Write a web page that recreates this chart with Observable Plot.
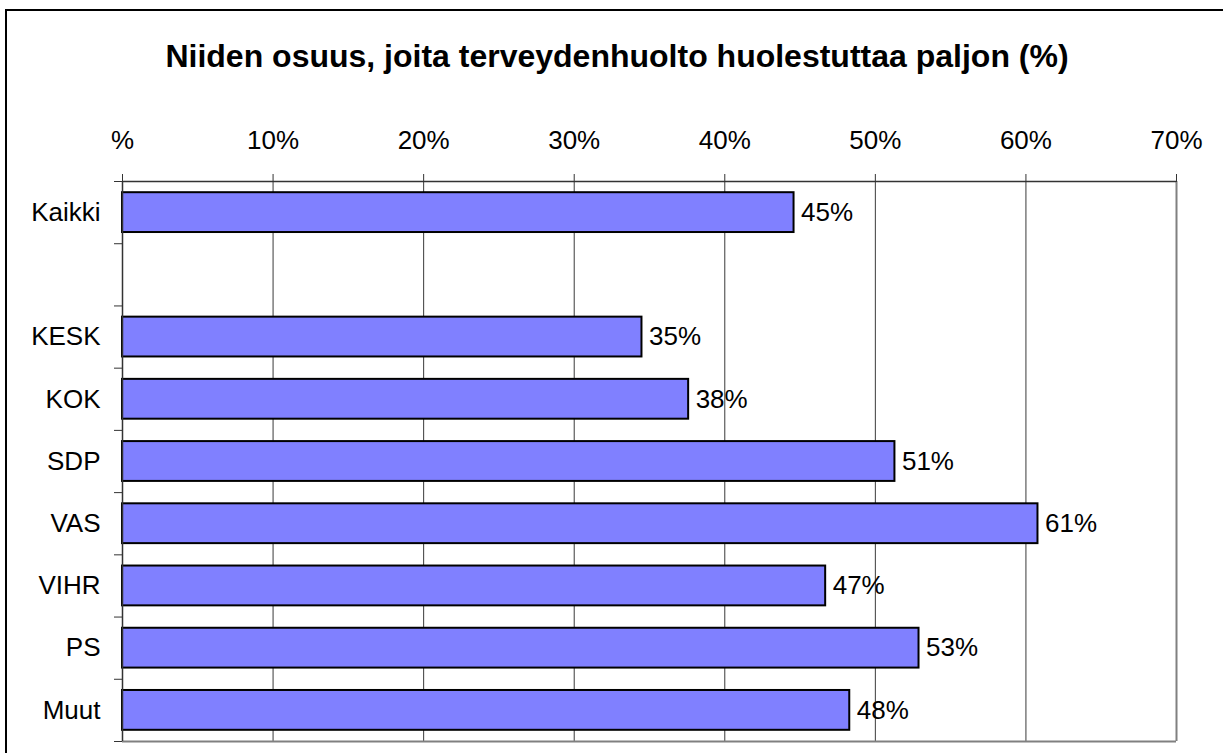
<!DOCTYPE html>
<html>
<head>
<meta charset="utf-8">
<script src="https://cdn.jsdelivr.net/npm/d3@7"></script>
<script src="https://cdn.jsdelivr.net/npm/@observablehq/plot@0.6"></script>
<style>
  html, body { margin: 0; padding: 0; background: #fff; }
  #page { position: relative; width: 1223px; height: 753px; overflow: hidden; font-family: Arial, "Liberation Sans", sans-serif; }
  #frame { position: absolute; left: 5px; top: 9px; width: 1400px; height: 900px; border: 2px solid #000; box-sizing: border-box; }
  #title { position: relative; height: 120px; box-sizing: border-box; padding-top: 40px; width: 1234px; text-align: center; font-weight: bold; font-size: 32px; line-height: 32px; color: #000; white-space: nowrap; }
  #chart { position: relative; }
</style>
</head>
<body>
<div id="page">
  <div id="frame"></div>
  <div id="title">Niiden osuus, joita terveydenhuolto huolestuttaa paljon (%)</div>
  <div id="chart"></div>
</div>
<script>
const categories = ["Kaikki", "", "KESK", "KOK", "SDP", "VAS", "VIHR", "PS", "Muut"];
const values = [0.446, null, 0.345, 0.376, 0.513, 0.608, 0.467, 0.529, 0.483];
const valueLabels = ["45%", "", "35%", "38%", "51%", "61%", "47%", "53%", "48%"];
const xTicks = [0, 0.1, 0.2, 0.3, 0.4, 0.5, 0.6, 0.7];
const xTickLabels = ["%", "10%", "20%", "30%", "40%", "50%", "60%", "70%"];

const rows = categories.map((c, i) => ({cat: c, i, value: values[i], label: valueLabels[i]}));
const bars = rows.filter(d => d.value != null);
const boundaries = d3.range(categories.length + 1);

const chart = Plot.plot({
  width: 1223,
  height: 633,
  marginTop: 61,
  marginBottom: 12,
  marginLeft: 122,
  marginRight: 47,
  style: {fontFamily: "Arial, 'Liberation Sans', sans-serif", fontSize: "26px", color: "#000", background: "transparent"},
  x: {domain: [0, 0.7]},
  y: {domain: [0, categories.length], reverse: true},
  marks: [
    Plot.ruleX(xTicks.slice(1, -1), {stroke: "#3a3a3a", strokeWidth: 1}),
    Plot.ruleX([0.7], {stroke: "#808080", strokeWidth: 2}),
    Plot.ruleY([categories.length], {stroke: "#808080", strokeWidth: 2}),
    Plot.rectX(bars, {x1: 0, x2: "value", y1: d => d.i + 0.18, y2: d => d.i + 0.82, fill: "#8080FF", stroke: "#000", strokeWidth: 2}),
    Plot.ruleY([0], {stroke: "#333", strokeWidth: 1.5}),
    Plot.ruleX([0], {stroke: "#333", strokeWidth: 1.5}),
    Plot.axisX({anchor: "top", ticks: xTicks, tickFormat: (d, i) => xTickLabels[i], tickSize: 8, tickPadding: 25, stroke: "#333", fontSize: 26, label: null}),
    Plot.axisY({ticks: boundaries, tickFormat: () => "", tickSize: 8, stroke: "#333", label: null}),
    Plot.text(rows, {x: 0, y: d => d.i + 0.5, text: "cat", textAnchor: "end", dx: -22, fontSize: 26, fill: "#000"}),
    Plot.text(bars, {x: "value", y: d => d.i + 0.5, text: "label", textAnchor: "start", dx: 7, fontSize: 26, fill: "#000"})
  ]
});
document.getElementById("chart").appendChild(chart);
</script>
</body>
</html>
